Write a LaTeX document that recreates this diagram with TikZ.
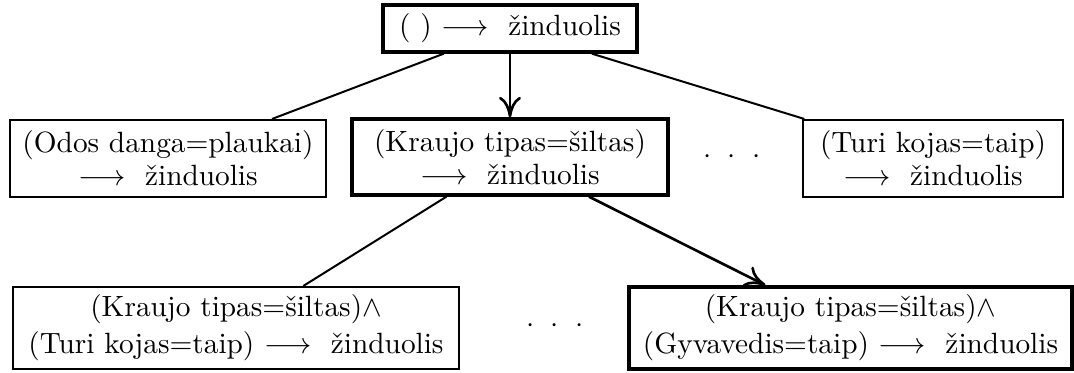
\documentclass[tikz,border=0pt]{standalone}
\usepackage{fontspec}
\usetikzlibrary{arrows.meta}
\begin{document}
\begin{tikzpicture}[x=0.341pt,y=-0.341pt,
  rule/.style={draw, line width=0.68pt, align=center, inner sep=0pt,
    font=\fontsize{10}{11.3}\selectfont},
  chosen/.style={rule, line width=1.15pt},
  link/.style={line width=0.68pt},
  pick/.style={line width=0.9pt, -{Computer Modern Rightarrow[length=7pt,width=7.5pt]}},
  gapdots/.style={inner sep=0pt, font=\fontsize{10}{11.3}\selectfont}]
\useasboundingbox (0,0) rectangle (1074,372);

% rule lattice: root, first refinement level, second refinement level
\node[chosen, minimum width=86.6pt, minimum height=16pt] (root) at (510,28.5)
  {( ) $\longrightarrow$~ žinduolis};
\node[rule, minimum width=107.8pt, minimum height=26.3pt] (odos) at (168,158.5)
  {(Odos danga=plaukai)\\ $\longrightarrow$~ žinduolis};
\node[chosen, minimum width=107.8pt, minimum height=25.9pt] (kraujo) at (510,157)
  {(Kraujo tipas=šiltas)\\ $\longrightarrow$~ žinduolis};
\node[rule, minimum width=88.5pt, minimum height=26.3pt] (kojos) at (933,158.5)
  {(Turi kojas=taip)\\ $\longrightarrow$~ žinduolis};
\node[gapdots] (dotsA) at (732,157) {$\cdot$\hspace{5.7pt}$\cdot$\hspace{5.7pt}$\cdot$};

\node[rule, minimum width=152.1pt, minimum height=28pt] (krkoj) at (236,328)
  {(Kraujo tipas=šiltas)$\wedge$\\[1.3pt] (Turi kojas=taip) $\longrightarrow$~ žinduolis};
\node[chosen, minimum width=151.1pt, minimum height=28pt] (krgyv) at (850.5,328)
  {(Kraujo tipas=šiltas)$\wedge$\\[1.3pt] (Gyvavedis=taip) $\longrightarrow$~ žinduolis};
\node[gapdots] (dotsB) at (555,326) {$\cdot$\hspace{5.7pt}$\cdot$\hspace{5.7pt}$\cdot$};

% specialisation links; arrows mark the chosen path
\draw[link] (root) -- (odos);
\draw[link] (root) -- (kojos);
\draw[pick] (root) -- (kraujo);
\draw[link] (kraujo) -- (krkoj);
\draw[pick] (kraujo) -- (krgyv);
\end{tikzpicture}
\end{document}
